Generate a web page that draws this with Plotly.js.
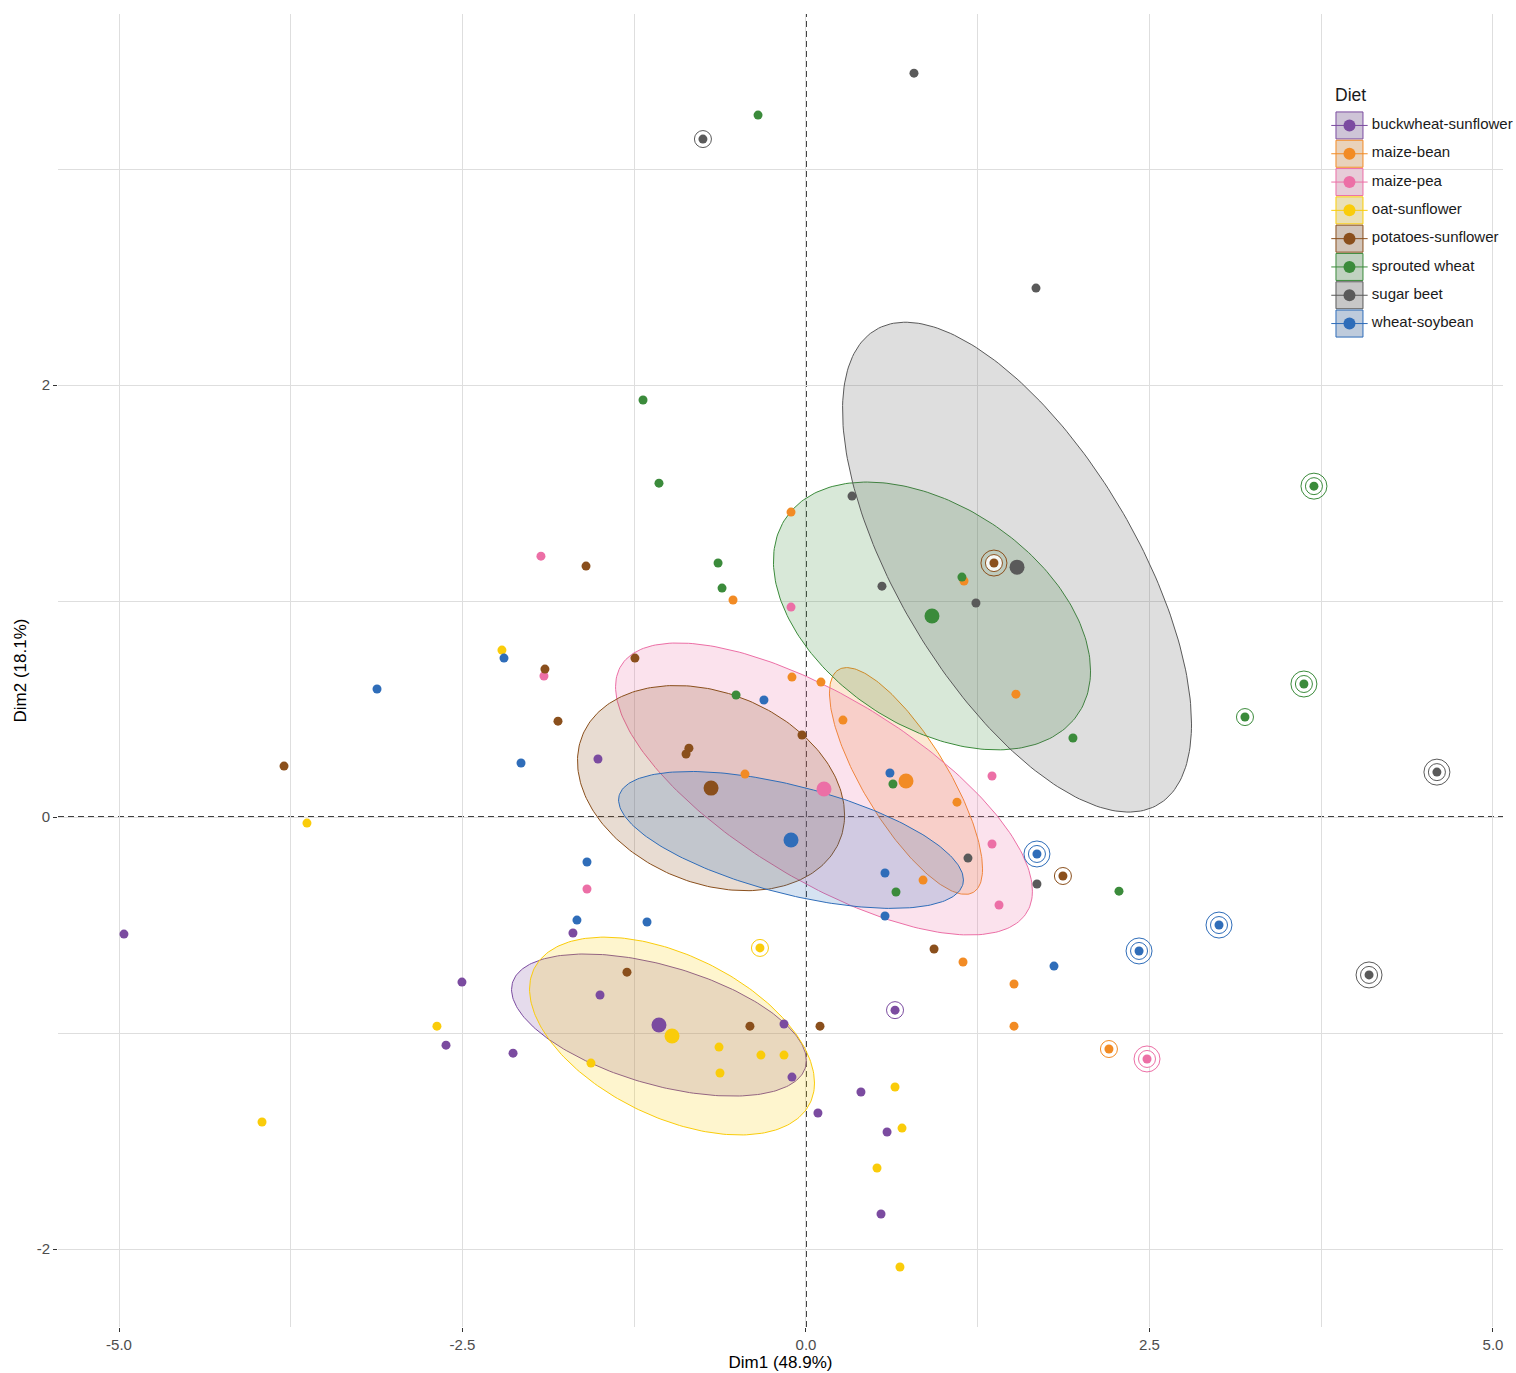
<!DOCTYPE html>
<html>
<head>
<meta charset="utf-8">
<script src="https://cdn.plot.ly/plotly-3.0.1.min.js"></script>
<style>
html,body{margin:0;padding:0;background:#ffffff;}
#chart{width:1516px;height:1373px;}
</style>
</head>
<body>
<div id="chart"></div>
<script>
// ---- categories ----
const diets = ['buckwheat-sunflower','maize-bean','maize-pea','oat-sunflower','potatoes-sunflower','sprouted wheat','sugar beet','wheat-soybean'];

// ---- individuals (Dim1, Dim2) per diet; ring: 0 none, 1 single, 2 double ----
const buckwheatX = [-1.514,-4.964,-1.696,-2.504,-1.499,-2.620,-2.132,-0.160,-0.102,0.087,0.400,0.590,0.546,0.648];
const buckwheatY = [0.269,-0.542,-0.537,-0.764,-0.824,-1.056,-1.093,-0.958,-1.204,-1.370,-1.273,-1.458,-1.838,-0.894];
const buckwheatRing = [0,0,0,0,0,0,0,0,0,0,0,0,0,1];

const maizeBeanX = [-0.109,-0.531,-0.102,0.109,0.269,-0.444,1.150,1.528,1.099,0.852,1.143,1.514,1.514,2.205];
const maizeBeanY = [1.412,1.005,0.648,0.625,0.449,0.199,1.093,0.569,0.069,-0.292,-0.671,-0.773,-0.968,-1.074];
const maizeBeanRing = [0,0,0,0,0,0,0,0,0,0,0,0,0,1];

const maizePeaX = [-1.929,-1.907,-0.109,1.354,1.354,1.405,-1.594,2.482];
const maizePeaY = [1.208,0.653,0.972,0.190,-0.125,-0.407,-0.333,-1.120];
const maizePeaRing = [0,0,0,0,0,0,0,2];

const oatX = [-2.213,-3.632,-2.686,-3.959,-1.565,-0.633,-0.626,-0.328,-0.160,-0.335,0.648,0.699,0.517,0.684];
const oatY = [0.773,-0.028,-0.968,-1.412,-1.139,-1.065,-1.185,-1.102,-1.102,-0.606,-1.250,-1.440,-1.625,-2.083];
const oatRing = [0,0,0,0,0,0,0,0,0,1,0,0,0,0];

const potatoesX = [-1.601,-1.900,-1.245,-1.805,-3.799,-0.852,-0.873,-0.029,-1.303,-0.408,0.102,0.932,1.368,1.870];
const potatoesY = [1.162,0.685,0.736,0.444,0.236,0.319,0.292,0.380,-0.718,-0.968,-0.968,-0.611,1.176,-0.273];
const potatoesRing = [0,0,0,0,0,0,0,0,0,0,0,0,2,1];

const sproutedX = [-0.349,-1.186,-1.070,-0.640,-0.611,-0.509,1.135,0.633,0.655,1.943,2.278,3.697,3.624,3.195];
const sproutedY = [3.250,1.931,1.546,1.176,1.060,0.565,1.111,0.153,-0.347,0.366,-0.343,1.532,0.616,0.463];
const sproutedRing = [0,0,0,0,0,0,0,0,0,0,0,2,2,1];

const sugarBeetX = [0.786,-0.750,1.674,0.335,0.553,1.237,1.179,1.681,4.592,4.098];
const sugarBeetY = [3.444,3.139,2.449,1.486,1.069,0.991,-0.190,-0.310,0.208,-0.731];
const sugarBeetRing = [0,1,0,0,0,0,0,0,2,2];

const soybeanX = [-2.198,-3.122,-2.074,-0.306,-1.594,-1.667,-1.157,0.611,0.575,0.575,1.681,1.805,2.424,3.006];
const soybeanY = [0.736,0.593,0.250,0.542,-0.208,-0.477,-0.486,0.204,-0.259,-0.458,-0.171,-0.690,-0.620,-0.500];
const soybeanRing = [0,0,0,0,0,0,0,0,0,0,2,0,2,2];

// ---- group centroids (mean points) ----
const centroidX = [-1.070,0.728,0.131,-0.975,-0.691,0.917,1.536,-0.109];
const centroidY = [-0.963,0.167,0.130,-1.014,0.134,0.931,1.157,-0.106];

// ---- concentration ellipses: spread in Dim1, spread in Dim2, correlation ----
const ellipseSX = [1.073,0.557,1.517,1.037,0.972,1.154,1.270,1.255];
const ellipseSY = [0.329,0.525,0.676,0.458,0.475,0.620,1.134,0.317];
const ellipseR  = [-0.50,-0.775,-0.70,-0.475,-0.263,-0.41,-0.64,-0.584];

// ---- axis ticks ----
const xTickVals = [-5,-2.5,0,2.5,5];
const xTickText = ['-5.0','-2.5','0.0','2.5','5.0'];
const xMinorVals = [-3.75,-1.25,1.25,3.75];
const yTickVals = [-2,0,2];
const yTickText = ['-2','0','2'];
const yMinorVals = [-1,1,3];

// ---- styling ----
const dietColors = ['#7B4BA0','#F28B24','#EC6FA6','#FACC0A','#8A4F1C','#3B8B3B','#5A5A5A','#2F6DB9'];

const groupX = [buckwheatX,maizeBeanX,maizePeaX,oatX,potatoesX,sproutedX,sugarBeetX,soybeanX];
const groupY = [buckwheatY,maizeBeanY,maizePeaY,oatY,potatoesY,sproutedY,sugarBeetY,soybeanY];
const groupRing = [buckwheatRing,maizeBeanRing,maizePeaRing,oatRing,potatoesRing,sproutedRing,sugarBeetRing,soybeanRing];

function hexToRgb(h){const n=parseInt(h.slice(1),16);return [(n>>16)&255,(n>>8)&255,n&255];}
function rgba(h,a){const c=hexToRgb(h);return 'rgba('+c[0]+','+c[1]+','+c[2]+','+a+')';}
function blend(h,a,base){const c=hexToRgb(h);return 'rgb('+c.map(v=>Math.round(v*a+base*(1-a))).join(',')+')';}

function ellipsePath(cx,cy,sx,sy,r,n){
  const xs=[],ys=[];const q=Math.sqrt(1-r*r);
  for(let i=0;i<=n;i++){const t=2*Math.PI*i/n;xs.push(cx+sx*Math.cos(t));ys.push(cy+sy*(r*Math.cos(t)+q*Math.sin(t)));}
  return {xs,ys};
}

const traces = [];
// ellipses
diets.forEach((d,i)=>{
  const e = ellipsePath(centroidX[i],centroidY[i],ellipseSX[i],ellipseSY[i],ellipseR[i],240);
  traces.push({type:'scatter',mode:'lines',x:e.xs,y:e.ys,fill:'toself',
    fillcolor:rgba(dietColors[i],0.2),line:{color:dietColors[i],width:1},
    hoverinfo:'skip',showlegend:false});
});
// rings
diets.forEach((d,i)=>{
  const ox=[],oy=[],ix=[],iy=[];
  groupRing[i].forEach((r,k)=>{
    if(r>=1){ix.push(groupX[i][k]);iy.push(groupY[i][k]);}
    if(r>=2){ox.push(groupX[i][k]);oy.push(groupY[i][k]);}
  });
  if(ox.length) traces.push({type:'scatter',mode:'markers',x:ox,y:oy,
    marker:{symbol:'circle-open',size:26,color:dietColors[i],line:{color:dietColors[i],width:1}},hoverinfo:'skip',showlegend:false});
  if(ix.length) traces.push({type:'scatter',mode:'markers',x:ix,y:iy,
    marker:{symbol:'circle',size:17,color:'rgba(255,255,255,0.85)',line:{color:dietColors[i],width:1}},hoverinfo:'skip',showlegend:false});
});
// individuals
diets.forEach((d,i)=>{
  traces.push({type:'scatter',mode:'markers',x:groupX[i],y:groupY[i],name:d,
    marker:{symbol:'circle',size:9,color:dietColors[i]},showlegend:false});
});
// centroids
diets.forEach((d,i)=>{
  traces.push({type:'scatter',mode:'markers',x:[centroidX[i]],y:[centroidY[i]],name:d,
    marker:{symbol:'circle',size:15,color:dietColors[i]},showlegend:false});
});

// custom legend drawn on its own small axes
const keyX = 0.09, textX = 0.212;
const keyXs = diets.map(()=>keyX), textXs = diets.map(()=>textX);
traces.push({type:'scatter',mode:'markers',xaxis:'x2',yaxis:'y2',x:keyXs,y:diets,
  marker:{symbol:'square',size:27,color:dietColors.map(c=>blend(c,0.22,230)),line:{color:dietColors,width:1}},
  hoverinfo:'skip',showlegend:false,cliponaxis:false});
traces.push({type:'scatter',mode:'markers',xaxis:'x2',yaxis:'y2',x:keyXs,y:diets,
  marker:{symbol:'line-ew',size:26,color:dietColors,line:{color:dietColors,width:1}},
  hoverinfo:'skip',showlegend:false,cliponaxis:false});
traces.push({type:'scatter',mode:'markers',xaxis:'x2',yaxis:'y2',x:keyXs,y:diets,
  marker:{symbol:'circle',size:12,color:dietColors},
  hoverinfo:'skip',showlegend:false,cliponaxis:false});
traces.push({type:'scatter',mode:'text',xaxis:'x2',yaxis:'y2',x:textXs,y:diets,text:diets,
  textposition:'middle right',textfont:{family:'Liberation Sans, Arial, sans-serif',size:15,color:'#1a1a1a'},
  hoverinfo:'skip',showlegend:false,cliponaxis:false});

const mainRight = (1503-58)/1458;
const gridColor = '#DEDEDE';
const layout = {
  width:1516,height:1373,
  margin:{l:58,r:0,t:14,b:46},
  paper_bgcolor:'#ffffff',plot_bgcolor:'rgba(0,0,0,0)',
  showlegend:false,
  font:{family:'Liberation Sans, Arial, sans-serif',color:'#1a1a1a'},
  xaxis:{domain:[0,mainRight],range:[-5.444,5.073],tickmode:'array',tickvals:xTickVals,ticktext:xTickText,
    showgrid:true,gridcolor:gridColor,gridwidth:1,zeroline:false,showline:false,
    minor:{tickmode:'array',tickvals:xMinorVals,showgrid:true,gridcolor:gridColor,gridwidth:1},
    ticks:'outside',ticklen:4,tickcolor:'#333333',tickwidth:1,
    tickfont:{size:15,color:'#4D4D4D'},
    title:{text:'Dim1 (48.9%)',font:{size:17,color:'#000000'},standoff:4}},
  yaxis:{domain:[0,1],range:[-2.361,3.718],tickmode:'array',tickvals:yTickVals,ticktext:yTickText,
    showgrid:true,gridcolor:gridColor,gridwidth:1,zeroline:false,showline:false,
    minor:{tickmode:'array',tickvals:yMinorVals,showgrid:true,gridcolor:gridColor,gridwidth:1},
    ticks:'outside',ticklen:4,tickcolor:'#333333',tickwidth:1,
    tickfont:{size:15,color:'#4D4D4D'},
    title:{text:'Dim2 (18.1%)',font:{size:17,color:'#000000'},standoff:5}},
  xaxis2:{domain:[(1333-58)/1458,1],range:[0,1],visible:false,anchor:'y2',fixedrange:true,showgrid:false},
  yaxis2:{domain:[(1327-337.7)/1313,(1327-111.3)/1313],type:'category',categoryarray:diets,
    range:[7.5,-0.5],visible:false,anchor:'x2',fixedrange:true,showgrid:false},
  shapes:[
    {type:'line',xref:'x',yref:'paper',x0:0,x1:0,y0:0,y1:1,layer:'below',line:{color:'#000000',width:1.5,dash:'6px,4px'}},
    {type:'line',xref:'paper',yref:'y',x0:0,x1:mainRight,y0:0,y1:0,layer:'below',line:{color:'#000000',width:1.5,dash:'6px,4px'}}
  ],
  annotations:[
    {text:'Diet',xref:'paper',yref:'paper',x:(1333-58)/1458,y:(1327-95)/1313,xanchor:'left',yanchor:'middle',
     showarrow:false,font:{size:17.5,color:'#1a1a1a'}}
  ]
};

Plotly.newPlot('chart',traces,layout,{staticPlot:true,displayModeBar:false});
</script>
</body>
</html>
